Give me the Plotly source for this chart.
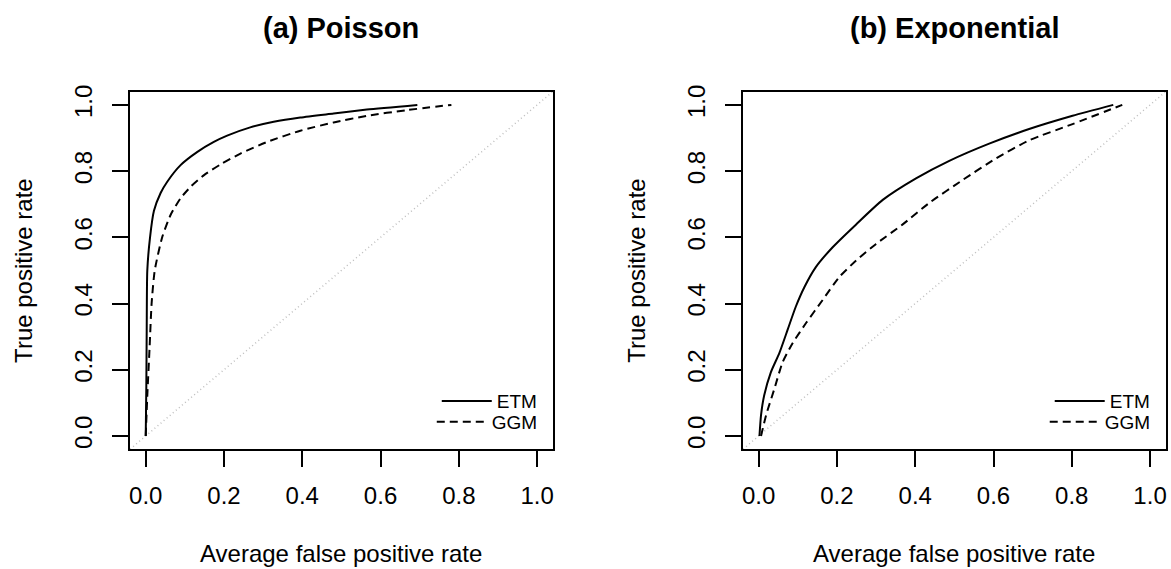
import plotly.graph_objects as go

# ---------------- data ----------------
poisson_etm_fpr = [0, 0.0015, 0.0025, 0.004, 0.011, 0.021, 0.038, 0.055, 0.089, 0.132, 0.174, 0.208, 0.267, 0.327, 0.395, 0.48, 0.565, 0.694]
poisson_etm_tpr = [0, 0.15, 0.32, 0.50, 0.60, 0.68, 0.734, 0.768, 0.818, 0.858, 0.888, 0.907, 0.932, 0.949, 0.962, 0.974, 0.986, 1.0]
poisson_ggm_fpr = [0, 0.004, 0.010, 0.015, 0.023, 0.042, 0.064, 0.089, 0.115, 0.149, 0.191, 0.242, 0.31, 0.395, 0.48, 0.565, 0.666, 0.781]
poisson_ggm_tpr = [0, 0.122, 0.271, 0.40, 0.50, 0.60, 0.669, 0.718, 0.753, 0.788, 0.82, 0.853, 0.888, 0.922, 0.947, 0.967, 0.984, 1.0]

expo_etm_fpr = [0.002, 0.006, 0.014, 0.031, 0.053, 0.074, 0.095, 0.117, 0.146, 0.189, 0.249, 0.317, 0.402, 0.487, 0.589, 0.691, 0.802, 0.906]
expo_etm_tpr = [0, 0.063, 0.122, 0.192, 0.251, 0.321, 0.391, 0.45, 0.51, 0.57, 0.639, 0.713, 0.778, 0.831, 0.883, 0.927, 0.967, 1.0]
expo_ggm_fpr = [0.006, 0.019, 0.040, 0.061, 0.087, 0.121, 0.163, 0.206, 0.249, 0.30, 0.368, 0.436, 0.521, 0.606, 0.691, 0.802, 0.929]
expo_ggm_tpr = [0, 0.063, 0.142, 0.222, 0.281, 0.341, 0.41, 0.48, 0.53, 0.58, 0.639, 0.704, 0.773, 0.838, 0.893, 0.942, 1.0]

panel_titles = ["(a) Poisson", "(b) Exponential"]
series_names = ["ETM", "GGM"]
tick_values = [0, 0.2, 0.4, 0.6, 0.8, 1.0]
tick_labels = ["0.0", "0.2", "0.4", "0.6", "0.8", "1.0"]
x_title = "Average false positive rate"
y_title = "True positive rate"
AXIS_RANGE = [-0.04, 1.04]

# ---------------- layout geometry (pixels) ----------------
W, H = 1171, 569
FONT = "Liberation Sans, Arial, Helvetica, sans-serif"
boxes = [(129.3, 552.7), (743.3, 1166.7)]
box_top, box_bottom = 85.7, 447.7


def px_x(p):
    return p / W


def px_y(p):
    return (H - p) / H


fig = go.Figure()

panels = [
    (poisson_etm_fpr, poisson_etm_tpr, poisson_ggm_fpr, poisson_ggm_tpr),
    (expo_etm_fpr, expo_etm_tpr, expo_ggm_fpr, expo_ggm_tpr),
]

legend_names = [["legend", "legend2"], ["legend3", "legend4"]]

for i, (ex, ey, gx, gy) in enumerate(panels):
    xa = "x" if i == 0 else "x2"
    ya = "y" if i == 0 else "y2"
    # diagonal reference line
    fig.add_trace(go.Scatter(x=AXIS_RANGE, y=AXIS_RANGE, mode="lines", xaxis=xa, yaxis=ya,
                             line=dict(color="#BEBEBE", width=1.5, dash="1px,3px"),
                             showlegend=False, hoverinfo="skip"))
    fig.add_trace(go.Scatter(x=ex, y=ey, mode="lines", name=series_names[0], xaxis=xa, yaxis=ya,
                             line=dict(color="black", width=2, shape="spline", smoothing=0.6),
                             legend=legend_names[i][0]))
    fig.add_trace(go.Scatter(x=gx, y=gy, mode="lines", name=series_names[1], xaxis=xa, yaxis=ya,
                             line=dict(color="black", width=2, dash="8px,5px", shape="spline", smoothing=0.6),
                             legend=legend_names[i][1]))

axis_common = dict(range=AXIS_RANGE, tickvals=tick_values, ticktext=tick_labels,
                   showgrid=False, zeroline=False, showline=True, mirror=True,
                   linecolor="black", linewidth=2, ticks="outside", ticklen=16,
                   tickwidth=1.5, tickcolor="black",
                   tickfont=dict(family=FONT, size=24, color="black"))

layout = dict(
    width=W, height=H,
    margin=dict(l=0, r=0, t=0, b=0),
    paper_bgcolor="white", plot_bgcolor="white",
    font=dict(family=FONT, color="black"),
    xaxis=dict(domain=[px_x(boxes[0][0]), px_x(boxes[0][1])], anchor="y", ticklabelstandoff=8, **axis_common),
    yaxis=dict(domain=[px_y(box_bottom), px_y(box_top)], anchor="x", tickangle=-90, ticklabelstandoff=10, **axis_common),
    xaxis2=dict(domain=[px_x(boxes[1][0]), px_x(boxes[1][1])], anchor="y2", ticklabelstandoff=8, **axis_common),
    yaxis2=dict(domain=[px_y(box_bottom), px_y(box_top)], anchor="x2", tickangle=-90, ticklabelstandoff=10, **axis_common),
)

legend_rows = [399, 420]
for i in range(2):
    right_edge = boxes[i][1] - 10
    for j in range(2):
        layout[legend_names[i][j]] = dict(
            x=px_x(right_edge), xanchor="right", xref="paper",
            y=px_y(legend_rows[j]), yanchor="middle", yref="paper",
            bgcolor="rgba(0,0,0,0)", borderwidth=0, itemwidth=50,
            font=dict(family=FONT, size=19, color="black"),
        )

annotations = []
for i in range(2):
    cx = px_x((boxes[i][0] + boxes[i][1]) / 2)
    annotations.append(dict(text="<b>%s</b>" % panel_titles[i], x=cx, y=px_y(21), xref="paper", yref="paper",
                            xanchor="center", yanchor="middle", showarrow=False,
                            font=dict(family=FONT, size=29, color="black")))
    annotations.append(dict(text=x_title, x=cx, y=px_y(553), xref="paper", yref="paper",
                            xanchor="center", yanchor="middle", showarrow=False,
                            font=dict(family=FONT, size=24, color="black")))
    annotations.append(dict(text=y_title, x=px_x(boxes[i][0] - 106.8), y=px_y((box_top + box_bottom) / 2),
                            xref="paper", yref="paper", xanchor="center", yanchor="middle",
                            textangle=-90, showarrow=False,
                            font=dict(family=FONT, size=24, color="black")))
layout["annotations"] = annotations

fig.update_layout(**layout)
fig.write_html("out.html")
